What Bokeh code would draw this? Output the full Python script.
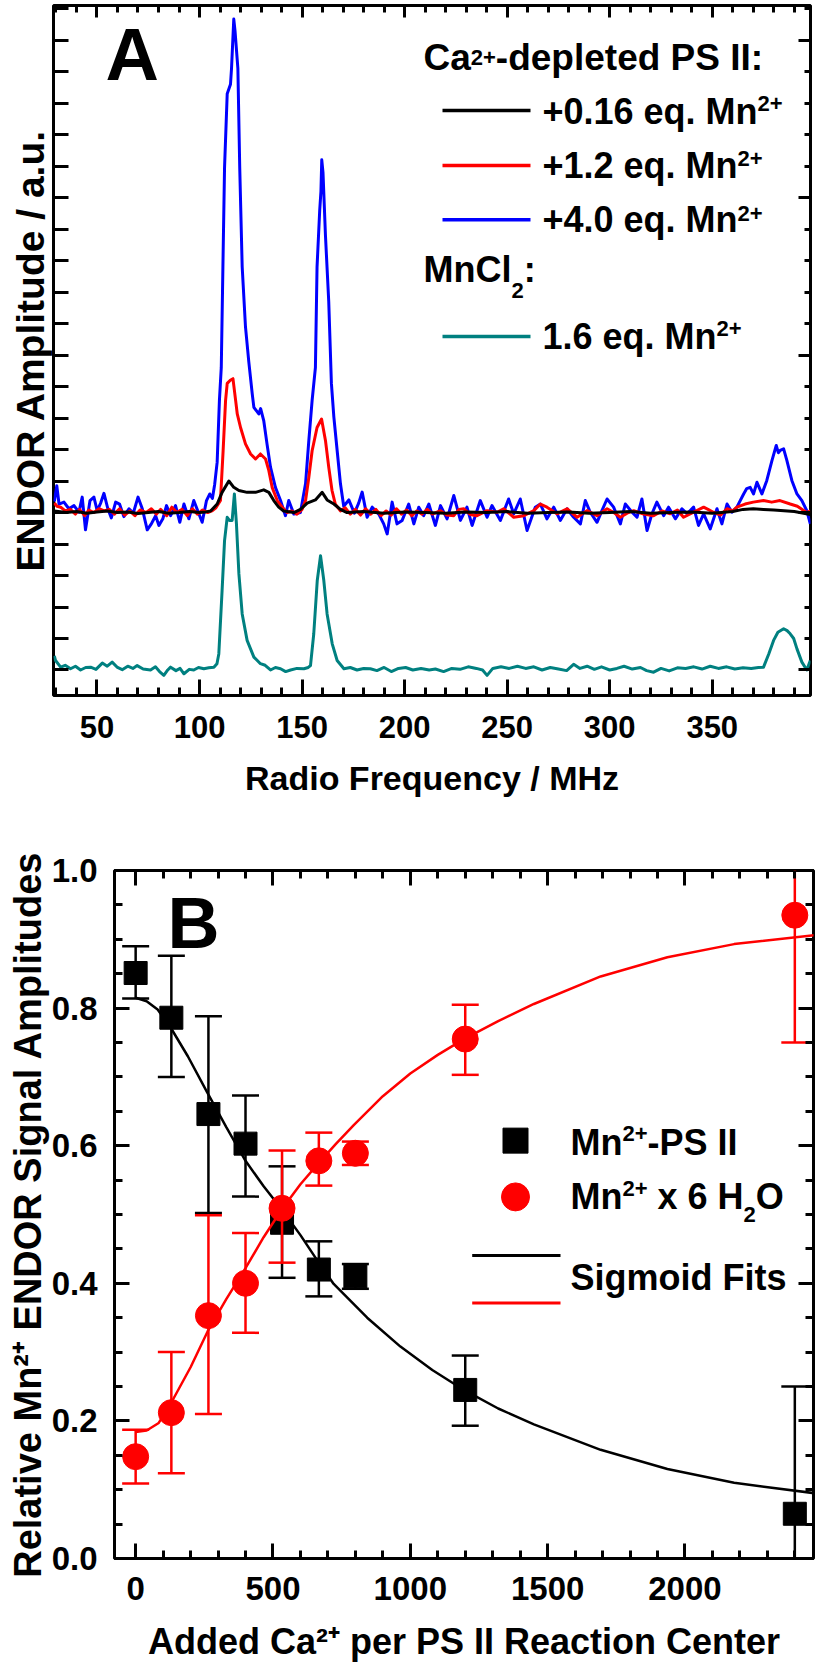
import numpy as np
from bokeh.plotting import figure
from bokeh.models import (Label, LinearAxis, FixedTicker, CustomJSTickFormatter,
                          Range1d, NumeralTickFormatter)
from bokeh.embed import file_html
from bokeh.resources import INLINE

FONT = "Liberation Sans"

# ---------------- Panel A : ENDOR spectra (MHz, a.u.) ----------------
BLUE_MHZ = [29.2, 30.4, 31.5, 33.9, 36.3, 38.8, 41.2, 42.8, 44.4, 46.6, 48.5, 50.1, 51.8, 53.4,
            55.3, 57.0, 59.1, 61.0, 63.1, 65.6, 67.7, 70.0, 72.1, 74.5, 76.5, 78.6, 80.2, 82.1,
            83.9, 85.9, 88.3, 90.4, 92.4, 94.8, 97.2, 99.4, 101.3, 103.4, 105.0, 106.3, 107.4,
            108.6, 109.7, 110.6, 111.4, 112.2, 113.5, 115.1, 115.6, 116.7, 117.3, 118.7, 119.6,
            120.8, 122.4, 124.0, 125.7, 126.5, 128.9, 129.8, 131.3, 132.9, 134.6, 137.0, 139.5,
            141.9, 143.5, 146.0, 149.2, 151.7, 153.3, 154.9, 156.5, 157.3, 158.6, 159.2, 159.6,
            160.2, 161.4, 163.0, 164.3, 165.5, 167.1, 168.7, 170.3, 172.8, 175.5, 177.6, 179.3,
            181.7, 184.2, 187.4, 189.8, 191.5, 193.9, 196.3, 198.8, 202.0, 204.5, 206.9, 209.3,
            211.8, 215.0, 217.5, 220.7, 224.0, 227.2, 230.4, 232.9, 236.9, 240.2, 242.6, 246.7,
            250.7, 253.2, 256.4, 259.7, 263.7, 266.2, 269.4, 272.7, 275.9, 279.2, 282.4, 285.7,
            288.1, 290.5, 293.8, 296.2, 298.7, 301.9, 305.2, 307.6, 310.9, 313.3, 315.7, 318.2,
            320.6, 323.0, 326.3, 328.7, 332.0, 335.2, 337.7, 340.9, 343.3, 345.8, 349.0, 352.3,
            354.7, 357.2, 359.6, 362.0, 365.3, 366.8, 368.5, 370.1, 371.8, 374.2, 376.6, 379.1,
            381.2, 382.2, 383.1, 384.8, 386.4, 388.8, 391.3, 393.7, 396.1, 397.8]
BLUE_AMP = [0.35, 0.85, 0.27, 0.33, 0.12, 0.22, 0.01, 0.49, -0.55, 0.38, 0.49, 0.06, 0.30, 0.61,
            0.12, -0.17, 0.33, 0.27, -0.13, 0.12, -0.02, 0.49, 0.12, -0.55, -0.36, -0.10, -0.41, -0.20,
            0.22, -0.10, 0.22, -0.31, 0.27, -0.20, 0.38, 0.01, -0.31, 0.38, 0.59, 0.45, 0.90,
            1.60, 3.56, 4.60, 7.80, 10.96, 13.30, 13.60, 14.10, 15.67, 15.30, 14.10, 10.96,
            7.80, 5.90, 4.80, 3.77, 3.34, 3.13, 3.30, 2.92, 2.18, 1.44, 0.80, 0.38,
            -0.10, 0.38, -0.05, 0.00, 0.92, 2.29, 3.56, 4.60, 7.80, 9.60, 10.20, 11.20,
            10.80, 8.80, 6.70, 4.10, 3.03, 1.97, 0.92, 0.20, 0.40, -0.02, 0.30, 0.65,
            -0.15, 0.17, -0.05, -0.36, -0.68, 0.33, -0.36, -0.25, 0.27, -0.36, 0.17, -0.10,
            0.27, -0.41, 0.22, -0.20, 0.54, -0.25, 0.17, -0.41, 0.38, -0.15, 0.22, -0.25,
            0.43, -0.04, 0.43, -0.57, 0.17, 0.27, -0.20, 0.17, -0.25, 0.12, -0.15, -0.36,
            0.38, 0.01, -0.31, 0.06, 0.43, 0.17, -0.36, 0.27, 0.01, -0.15, 0.43, -0.57,
            -0.04, 0.33, -0.10, 0.17, -0.20, 0.12, -0.04, 0.17, -0.41, -0.04, -0.52, 0.12,
            -0.36, 0.27, 0.01, 0.17, 0.59, 0.76, 0.80, 0.59, 0.96, 0.59, 1.02, 1.65,
            2.13, 1.90, 1.97, 2.02, 1.65, 1.02, 0.59, 0.38, 0.06, -0.36]

RED_MHZ = [29.2, 30.5, 32.3, 34.5, 37.0, 39.5, 41.5, 44.0, 46.0, 48.5, 51.0, 53.5, 56.0, 58.5,
           61.0, 63.5, 66.0, 68.5, 71.0, 74.0, 76.5, 79.0, 81.0, 84.0, 86.5, 89.0, 91.5, 94.0,
           96.5, 99.0, 101.5, 104.0, 106.0, 108.0, 110.2, 111.5, 112.7, 113.5, 115.0, 116.3,
           117.6, 118.4, 120.0, 122.4, 124.9, 127.3, 129.7, 132.2, 133.8, 135.4, 137.9, 140.3,
           142.7, 145.0, 147.5, 150.0, 151.7, 153.3, 154.9, 157.3, 159.5, 161.4, 163.0, 164.6,
           166.2, 168.7, 171.0, 173.5, 176.0, 178.5, 181.0, 183.5, 186.0, 188.5, 191.0, 193.5,
           196.0, 198.5, 201.0, 203.5, 206.0, 208.5, 211.0, 213.5, 217.5, 220.5, 224.0, 226.5,
           228.8, 232.0, 235.3, 240.2, 245.1, 248.3, 253.2, 258.1, 263.0, 266.2, 269.4, 274.3,
           279.2, 284.1, 288.9, 293.8, 298.7, 302.0, 305.2, 308.5, 311.7, 316.5, 321.4, 325.5,
           329.5, 333.0, 336.0, 340.9, 345.8, 350.6, 354.0, 357.2, 360.0, 362.0, 366.0, 370.0,
           375.0, 379.0, 383.0, 388.0, 391.5, 396.0, 397.8]
RED_AMP = [0.30, 0.20, 0.17, 0.05, 0.10, -0.05, 0.10, -0.10, 0.08, 0.00, 0.12, 0.05, 0.10, -0.05,
           0.12, -0.08, 0.05, -0.10, 0.08, 0.00, 0.12, -0.05, 0.10, -0.10, 0.17, 0.00, 0.10, -0.10,
           0.12, -0.05, 0.08, 0.00, 0.05, 0.15, 0.38, 1.96, 3.56, 4.10, 4.20, 4.25,
           3.56, 3.13, 2.70, 2.18, 1.86, 1.70, 1.86, 1.70, 1.33, 0.80, 0.38, 0.17,
           0.00, 0.05, -0.05, 0.10, 0.38, 1.12, 1.96, 2.70, 2.97, 2.29, 1.44, 0.70,
           0.27, 0.05, 0.15, -0.05, 0.10, -0.08, 0.12, -0.05, 0.10, -0.10, 0.05, -0.08,
           0.12, -0.05, 0.08, -0.10, 0.05, -0.05, 0.10, -0.05, 0.06, -0.08, -0.10, 0.10,
           0.12, -0.06, -0.10, 0.06, 0.01, 0.12, -0.15, -0.10, 0.06, 0.27, 0.17, -0.04,
           0.12, -0.15, 0.06, -0.10, 0.12, 0.00, -0.15, -0.02, 0.06, -0.05, -0.10, 0.05,
           -0.04, 0.08, -0.15, 0.01, 0.17, 0.01, -0.08, 0.12, 0.05, 0.17, 0.27, 0.33,
           0.38, 0.33, 0.38, 0.27, 0.20, 0.00, 0.05]

BLACK_MHZ = [29.2, 35.0, 40.0, 45.0, 50.0, 55.0, 60.0, 65.0, 70.0, 75.0, 80.0, 85.0, 90.0, 95.0,
             100.0, 103.0, 105.4, 108.6, 111.0, 114.3, 116.7, 119.2, 123.2, 127.3, 131.3, 133.8,
             136.2, 138.6, 141.0, 146.0, 149.2, 152.5, 156.5, 159.8, 162.2, 165.5, 168.7, 171.9,
             180.0, 190.0, 200.0, 210.0, 220.0, 230.0, 240.0, 250.0, 260.0, 270.0, 280.0, 290.0,
             300.0, 310.0, 320.0, 330.0, 340.0, 350.0, 360.0, 365.0, 370.0, 375.0, 380.0, 385.0,
             390.0, 397.8]
BLACK_AMP = [0.05, 0.00, 0.03, -0.02, 0.02, 0.05, 0.00, 0.02, -0.03, 0.00, 0.03, -0.02, 0.00, 0.03,
             0.00, 0.02, 0.05, 0.27, 0.64, 1.00, 0.80, 0.70, 0.64, 0.64, 0.72, 0.64,
             0.38, 0.17, 0.05, 0.00, 0.10, 0.30, 0.40, 0.64, 0.40, 0.27, 0.10, 0.00,
             0.03, -0.02, 0.02, 0.00, -0.02, 0.02, 0.00, 0.03, -0.02, 0.00, 0.02, -0.02,
             0.00, 0.03, -0.02, 0.00, 0.02, -0.02, 0.03, 0.10, 0.12, 0.10, 0.08, 0.06,
             0.03, -0.06]

TEAL_MHZ = [29.2, 29.8, 32.3, 34.5, 37.1, 39.5, 42.0, 44.5, 46.9, 49.5, 52.6, 55.0, 57.4, 60.0,
            62.3, 65.0, 67.5, 69.6, 72.5, 76.1, 78.5, 80.5, 82.6, 84.5, 85.9, 88.5, 90.5, 92.4,
            95.0, 97.2, 99.5, 102.1, 104.5, 107.0, 108.5, 109.4, 111.0, 112.2, 113.5, 114.6,
            115.9, 117.0, 118.0, 119.2, 120.8, 123.2, 126.5, 129.7, 132.0, 134.6, 137.0, 139.5,
            142.0, 144.4, 147.5, 150.9, 153.0, 154.1, 155.7, 157.4, 159.0, 160.6, 162.2, 164.7,
            167.1, 170.4, 173.5, 176.8, 180.0, 183.3, 186.5, 190.0, 193.5, 197.0, 200.5, 204.0,
            208.0, 212.0, 215.0, 219.0, 223.0, 227.0, 231.0, 235.0, 238.0, 240.2, 243.0, 247.0,
            251.0, 255.0, 259.0, 263.0, 267.0, 271.0, 275.0, 279.0, 282.4, 285.5, 289.0, 292.5,
            296.0, 300.0, 303.5, 307.0, 311.0, 315.0, 318.0, 321.4, 325.0, 329.0, 333.0, 337.0,
            341.0, 345.0, 349.0, 353.0, 357.0, 361.0, 365.0, 369.0, 372.5, 375.0, 377.5, 379.9,
            382.0, 384.8, 386.5, 388.0, 389.7, 391.3, 393.7, 396.1, 397.8]
TEAL_AMP = [-4.55, -4.70, -4.91, -4.85, -4.96, -4.88, -5.00, -4.92, -4.91, -4.98, -4.78, -4.88, -4.75, -4.92,
            -4.99, -4.88, -4.95, -4.86, -4.97, -5.00, -4.90, -5.05, -5.17, -5.00, -4.91, -5.02, -4.95, -5.12,
            -4.98, -5.00, -4.92, -4.96, -4.93, -4.91, -4.80, -4.49, -2.48, -0.89, -0.15, -0.25,
            -0.25, 0.59, -0.36, -1.95, -3.22, -4.06, -4.59, -4.80, -4.85, -5.00, -4.92, -4.96,
            -5.05, -5.00, -4.95, -4.96, -4.92, -4.86, -3.85, -2.16, -1.37, -2.16, -3.22, -4.17,
            -4.70, -4.96, -4.92, -5.00, -4.95, -4.96, -5.02, -4.92, -5.05, -4.95, -4.92, -5.00,
            -4.95, -5.00, -4.97, -5.05, -4.95, -4.98, -4.90, -4.95, -5.00, -5.17, -4.95, -4.90,
            -4.95, -4.88, -4.95, -4.90, -5.00, -4.92, -4.97, -5.02, -4.82, -4.95, -4.88, -4.98,
            -4.90, -5.00, -4.95, -4.88, -4.97, -4.92, -5.02, -5.07, -4.95, -5.03, -4.93, -4.95,
            -4.90, -4.97, -4.88, -4.95, -4.90, -4.97, -4.93, -4.95, -4.92, -4.91, -4.50, -4.06,
            -3.80, -3.69, -3.75, -3.85, -4.00, -4.33, -4.75, -5.00, -4.70]

SERIES_A_COLORS = ["black", "red", "blue", "#008080"]
LEGEND_A_LABELS = ["+0.16 eq. Mn", "+1.2 eq. Mn", "+4.0 eq. Mn", "1.6 eq. Mn"]
A_XTICKS = [50, 100, 150, 200, 250, 300, 350]

# ---------------- Panel B : relative amplitudes ----------------
CA_ADDED = [0, 130, 265, 400, 533, 667, 800, 1200, 2400]
PSII_AMP = [0.851, 0.786, 0.646, 0.603, 0.488, 0.420, 0.410, 0.245, 0.065]
PSII_HI = [0.890, 0.876, 0.788, 0.673, 0.570, 0.461, 0.428, 0.295, 0.250]
PSII_LO = [0.814, 0.700, 0.502, 0.526, 0.408, 0.381, 0.392, 0.193, -0.120]
AQUA_AMP = [0.148, 0.212, 0.353, 0.400, 0.509, 0.578, 0.589, 0.755, 0.935]
AQUA_HI = [0.187, 0.300, 0.499, 0.473, 0.593, 0.619, 0.606, 0.805, 1.120]
AQUA_LO = [0.109, 0.124, 0.210, 0.328, 0.430, 0.542, 0.572, 0.703, 0.750]

FIT_PSII_X = [0, 40, 80, 130, 190, 260, 330, 400, 466, 533, 600, 660, 721, 843, 964, 1080,
              1195, 1320, 1450, 1693, 1936, 2179, 2470]
FIT_PSII_Y = [0.815, 0.810, 0.798, 0.770, 0.730, 0.678, 0.627, 0.578, 0.541, 0.507, 0.470,
              0.434, 0.399, 0.350, 0.308, 0.274, 0.245, 0.218, 0.195, 0.158, 0.130, 0.110, 0.095]
FIT_AQUA_X = [0, 40, 84, 129, 200, 262, 330, 400, 466, 533, 600, 667, 730, 794, 900, 1000,
              1100, 1195, 1320, 1450, 1693, 1936, 2179, 2470]
FIT_AQUA_Y = [0.184, 0.186, 0.197, 0.226, 0.278, 0.330, 0.377, 0.422, 0.467, 0.508, 0.544,
              0.575, 0.603, 0.630, 0.672, 0.705, 0.732, 0.755, 0.781, 0.806, 0.846, 0.874,
              0.893, 0.906]
B_XTICKS = [0, 500, 1000, 1500, 2000]
B_YTICKS = [0.0, 0.2, 0.4, 0.6, 0.8, 1.0]

# ---------------- geometry (page px; the Bokeh page has no margin) ----------------
A_W, A_H = 816, 800
A_ML, A_MR, A_MT, A_MB = 53, 6, 5, 105          # frame x 53..810, y 5..695
AX = (28.8, 397.9)
AY = (-5.81, 16.1)
B_TOP = A_H
B_W, B_H = 816, 864
B_ML, B_MR, B_MT, B_MB = 114, 3, 70, 102        # frame x 114..813, y 870..1562
BX = (-77.0, 2468.0)
BY = (0.0, 1.0)
MID = 0.33   # text drawn with 'middle' baseline: offset from alphabetic baseline (em)

AW = {' ': 278, '!': 333, '+': 584, '-': 333, '.': 278, '/': 278, ':': 333,
      'A': 722, 'B': 722, 'C': 722, 'D': 722, 'E': 667, 'F': 611, 'H': 722, 'I': 278,
      'M': 833, 'N': 722, 'O': 778, 'P': 667, 'R': 722, 'S': 667,
      'a': 556, 'c': 556, 'd': 611, 'e': 556, 'g': 611, 'i': 278, 'l': 278, 'm': 889,
      'n': 611, 'o': 611, 'p': 611, 'q': 611, 'r': 389, 's': 556, 't': 333, 'u': 611,
      'v': 556, 'x': 556, 'y': 556, 'z': 500}
for _d in "0123456789":
    AW[_d] = 556


def tw(s, size):
    return sum(AW.get(c, 556) for c in s) / 1000.0 * size


class Map:
    """page-pixel -> data mapping for a frame"""
    def __init__(self, xr, yr, box):
        self.xr, self.yr = xr, yr
        self.l, self.t, self.r, self.b = box

    def x(self, px):
        return self.xr[0] + (px - self.l) / (self.r - self.l) * (self.xr[1] - self.xr[0])

    def y(self, py):
        return self.yr[1] - (py - self.t) / (self.b - self.t) * (self.yr[1] - self.yr[0])

    def dx(self, d):
        return d * (self.xr[1] - self.xr[0]) / (self.r - self.l)


MA = Map(AX, AY, (A_ML, A_MT, A_W - A_MR, A_H - A_MB))
MB = Map(BX, BY, (B_ML, B_TOP + B_MT, B_W - B_MR, B_TOP + B_H - B_MB))


def rich(p, m, x, y, parts):
    """horizontal text pieces inside the frame; x, y = start on the baseline (page px)"""
    X = m.x(x)
    for txt, size, rise in parts:
        lead = len(txt) - len(txt.lstrip(" "))
        if lead:
            X += m.dx(tw(" " * lead, size))
            txt = txt.lstrip(" ")
        Y = m.y(y - rise - MID * size)
        p.add_layout(Label(x=X, y=Y, text=txt, text_font=FONT, text_font_style="bold",
                           text_font_size=f"{size}px", text_color="black",
                           text_align="left", text_baseline="middle"))
        X += m.dx(tw(txt, size))


def style_axis(ax, major, minor, tin, tmin, label_size=None, standoff=0, fmt=None):
    ax.ticker = FixedTicker(ticks=major, minor_ticks=minor)
    ax.axis_line_color = None
    ax.major_tick_in = tin
    ax.major_tick_out = 0
    ax.minor_tick_in = tmin
    ax.minor_tick_out = 0
    ax.major_tick_line_width = 3
    ax.minor_tick_line_width = 3
    ax.major_tick_line_color = "black"
    ax.minor_tick_line_color = "black"
    if label_size is None:
        ax.formatter = CustomJSTickFormatter(code="return ''")
        ax.major_label_text_font_size = "0px"
        ax.major_label_standoff = 0
    else:
        if fmt is not None:
            ax.formatter = fmt
        ax.major_label_text_font = FONT
        ax.major_label_text_font_style = "bold"
        ax.major_label_text_font_size = f"{label_size}px"
        ax.major_label_text_color = "black"
        ax.major_label_standoff = standoff


def set_title(ax, text, size, standoff):
    ax.axis_label = text
    ax.axis_label_text_font = FONT
    ax.axis_label_text_font_style = "bold"
    ax.axis_label_text_font_size = f"{size}px"
    ax.axis_label_text_color = "black"
    ax.axis_label_standoff = standoff


def base_fig(w, h, xr, yr, ml, mr, mt, mb):
    p = figure(width=w, height=h, x_range=Range1d(*xr), y_range=Range1d(*yr),
               output_backend="svg", toolbar_location=None,
               min_border_left=ml, min_border_right=mr, min_border_top=mt, min_border_bottom=mb)
    p.grid.visible = False
    p.outline_line_color = "black"
    p.outline_line_width = 3
    p.background_fill_color = "white"
    p.border_fill_color = "white"
    return p


# ================= Panel A =================
pA = base_fig(A_W, A_H, AX, AY, A_ML, A_MR, A_MT, A_MB)
a_minor_x = list(range(30, 400, 10))
style_axis(pA.xaxis[0], A_XTICKS, a_minor_x, 16, 8, label_size=31, standoff=20)
set_title(pA.xaxis[0], "Radio Frequency / MHz", 34, 18)
style_axis(pA.yaxis[0], list(range(-5, 17)), [], 15, 0)
set_title(pA.yaxis[0], "ENDOR Amplitude / a.u.", 39, 2)
topA = LinearAxis()
style_axis(topA, A_XTICKS, a_minor_x, 12, 7)
pA.add_layout(topA, "above")
rightA = LinearAxis()
style_axis(rightA, [-5, 0, 5, 10, 15], list(range(-5, 17)), 12, 6)
pA.add_layout(rightA, "right")

pA.line(TEAL_MHZ, TEAL_AMP, line_color=SERIES_A_COLORS[3], line_width=3, line_join="round")
pA.line(BLUE_MHZ, BLUE_AMP, line_color=SERIES_A_COLORS[2], line_width=3, line_join="round")
pA.line(RED_MHZ, RED_AMP, line_color=SERIES_A_COLORS[1], line_width=3, line_join="round")
pA.line(BLACK_MHZ, BLACK_AMP, line_color=SERIES_A_COLORS[0], line_width=3, line_join="round")

# legend A
leg_line_y = [110, 165, 219.3, 336]
pA.segment(x0=[MA.x(442)] * 4, x1=[MA.x(530)] * 4,
           y0=[MA.y(v) for v in leg_line_y], y1=[MA.y(v) for v in leg_line_y],
           line_color=SERIES_A_COLORS, line_width=3.5)
rich(pA, MA, 423, 69, [("Ca", 37, 0), ("2+", 22, 5), ("-depleted PS II:", 37, 0)])
leg_base = [122.7, 176.7, 231, 348]
leg_rise = [12.7, 11.7, 11, 13]
for lab, yb, rs in zip(LEGEND_A_LABELS, leg_base, leg_rise):
    rich(pA, MA, 542, yb, [(lab, 36, 0), ("2+", 22, rs)])
rich(pA, MA, 423, 281, [("MnCl", 36, 0), ("2", 22, -16), (":", 36, 0)])
rich(pA, MA, 105, 78, [("A", 74, 0)])

# ================= Panel B =================
pB = base_fig(B_W, B_H, BX, BY, B_ML, B_MR, B_MT, B_MB)
b_minor_x = list(range(0, 2500, 100))
b_minor_y = [round(0.05 * i, 2) for i in range(0, 21)]
style_axis(pB.xaxis[0], B_XTICKS, b_minor_x, 15, 8, label_size=33, standoff=18)
set_title(pB.xaxis[0], "Added Ca\u00b2\u207a per PS II Reaction Center", 36, 18)
style_axis(pB.yaxis[0], B_YTICKS, b_minor_y, 15, 8, label_size=33, standoff=17,
           fmt=NumeralTickFormatter(format="0.0"))
set_title(pB.yaxis[0], "Relative Mn\u00b2\u207a ENDOR Signal Amplitudes", 38, 0)
topB = LinearAxis()
style_axis(topB, B_XTICKS, b_minor_x, 15, 8)
pB.add_layout(topB, "above")
rightB = LinearAxis()
style_axis(rightB, B_YTICKS, b_minor_y, 15, 8)
pB.add_layout(rightB, "right")

# Mn2+-PS II (black squares)
pB.segment(x0=CA_ADDED, y0=PSII_LO, x1=CA_ADDED, y1=PSII_HI, line_color="black", line_width=2.5)
pB.scatter(CA_ADDED + CA_ADDED, PSII_LO + PSII_HI, marker="dash", size=27,
           line_color="black", line_width=2.5)
pB.scatter(CA_ADDED, PSII_AMP, marker="square", size=23, fill_color="black", line_color="black")
pB.line(FIT_PSII_X, FIT_PSII_Y, line_color="black", line_width=2.5)

# Mn2+ x 6 H2O (red circles)
pB.segment(x0=CA_ADDED, y0=AQUA_LO, x1=CA_ADDED, y1=AQUA_HI, line_color="red", line_width=2.5)
pB.scatter(CA_ADDED + CA_ADDED, AQUA_LO + AQUA_HI, marker="dash", size=27,
           line_color="red", line_width=2.5)
pB.scatter(CA_ADDED, AQUA_AMP, marker="circle", size=26, fill_color="red", line_color="red")
pB.line(FIT_AQUA_X, FIT_AQUA_Y, line_color="red", line_width=2.5)

# legend B
pB.scatter([MB.x(515)], [MB.y(1141.7)], marker="square", size=25, fill_color="black", line_color="black")
pB.scatter([MB.x(515)], [MB.y(1198.3)], marker="circle", size=28, fill_color="red", line_color="red")
pB.segment(x0=[MB.x(471.7)] * 2, x1=[MB.x(560)] * 2, y0=[MB.y(1257.3), MB.y(1305)],
           y1=[MB.y(1257.3), MB.y(1305)], line_color=["black", "red"], line_width=3)
rich(pB, MB, 570, 1155, [("Mn", 36, 0), ("2+", 22, 13), ("-PS II", 36, 0)])
rich(pB, MB, 570, 1210, [("Mn", 36, 0), ("2+", 22, 13), (" x 6 H", 36, 0), ("2", 22, -13), ("O", 36, 0)])
rich(pB, MB, 570, 1291.7, [("Sigmoid Fits", 36, 0)])
rich(pB, MB, 167, 947, [("B", 72, 0)])

open("out.html", "w").write(file_html([pA, pB], INLINE))
